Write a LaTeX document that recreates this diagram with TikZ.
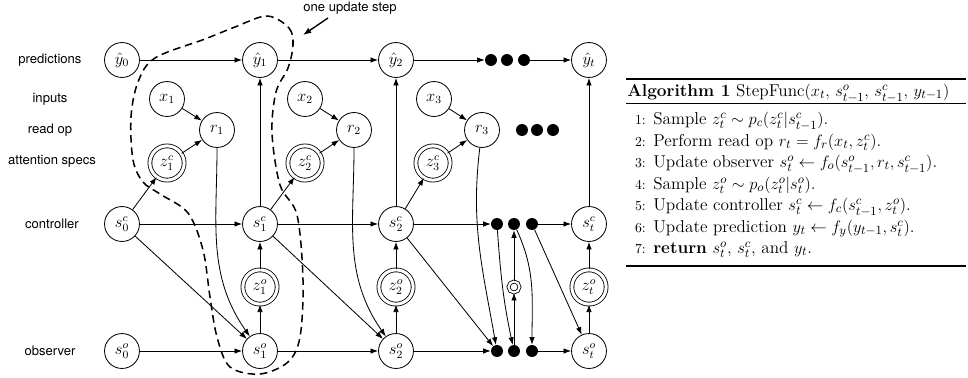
\documentclass[tikz,border=0pt]{standalone}
\usepackage{amsmath}
\usepackage{fontspec}
\newfontfamily\lblfont{TeX Gyre Heros}
\usetikzlibrary{arrows.meta}
\begin{document}
\begin{tikzpicture}[x=0.727pt, y=-0.727pt,
  st/.style={circle, draw, line width=0.6pt, minimum size=25.4pt, inner sep=0pt, font=\large},
  dst/.style={st, double, double distance=2.2pt, minimum size=24.9pt},
  dotn/.style={circle, fill=black, minimum size=8.7pt, inner sep=0pt},
  sdbl/.style={circle, draw, double, double distance=1.5pt, line width=0.6pt, minimum size=8pt, inner sep=0pt},
  arr/.style={-{Latex[length=5.5pt,width=4pt]}, line width=0.6pt},
  lbl/.style={font=\lblfont\fontsize{9.5}{11}\selectfont},
  hull/.style={dash pattern=on 5.5pt off 3.5pt, line width=1.1pt},
  algtxt/.style={anchor=base west, inner sep=0pt, font=\fontsize{12.5}{15}\selectfont},
  algnum/.style={anchor=base east, inner sep=0pt, font=\fontsize{10}{12}\selectfont},
]
\useasboundingbox (0,0) rectangle (968,377);

% row labels
\node[lbl] (lpred) at (50,60) {predictions};
\node[lbl] (linp) at (50,99) {inputs};
\node[lbl] (lread) at (50,130) {read op};
\node[lbl] (latt) at (52,161) {attention specs};
\node[lbl] (lctrl) at (52,224) {controller};
\node[lbl] (lobs) at (50,351) {observer};

% predictions
\node[st] (y0) at (122,60) {$\hat y_0$};
\node[st] (y1) at (260,60) {$\hat y_1$};
\node[st] (y2) at (396,60) {$\hat y_2$};
\node[dotn] (pd1) at (491,60) {};
\node[dotn] (pd2) at (507,60) {};
\node[dotn] (pd3) at (524,60) {};
\node[st] (yt) at (589,60) {$\hat y_t$};

% inputs, read ops, attention specs
\node[st] (x1) at (167,99) {$x_1$};
\node[st] (x2) at (305,99) {$x_2$};
\node[st] (x3) at (434,99) {$x_3$};
\node[st] (r1) at (217,130) {$r_1$};
\node[st] (r2) at (354,130) {$r_2$};
\node[st] (r3) at (482,130) {$r_3$};
\node[dotn] (rd1) at (522,130) {};
\node[dotn] (rd2) at (537,130) {};
\node[dotn] (rd3) at (553,130) {};
\node[dst] (zc1) at (167,163) {$z^c_1$};
\node[dst] (zc2) at (305,163) {$z^c_2$};
\node[dst] (zc3) at (433,163) {$z^c_3$};

% controller
\node[st] (sc0) at (122,224) {$s^c_0$};
\node[st] (sc1) at (260,224) {$s^c_1$};
\node[st] (sc2) at (396,224) {$s^c_2$};
\node[dotn] (cd1) at (497,224) {};
\node[dotn] (cd2) at (514,224) {};
\node[dotn] (cd3) at (532,224) {};
\node[st] (sct) at (589,224) {$s^c_t$};

% observation attention
\node[dst] (zo1) at (260,287) {$z^o_1$};
\node[dst] (zo2) at (396,287) {$z^o_2$};
\node[sdbl] (zom) at (514,287) {};
\node[dst] (zot) at (589,287) {$z^o_t$};

% observer
\node[st] (so0) at (122,351) {$s^o_0$};
\node[st] (so1) at (260,351) {$s^o_1$};
\node[st] (so2) at (396,351) {$s^o_2$};
\node[dotn] (od1) at (497,351) {};
\node[dotn] (od2) at (514,351) {};
\node[dotn] (od3) at (532,351) {};
\node[st] (sot) at (589,351) {$s^o_t$};

% prediction chain
\draw[arr] (y0) -- (y1);
\draw[arr] (y1) -- (y2);
\draw[arr] (y2) -- (pd1);
\draw[arr] (pd3) -- (yt);

% reads
\draw[arr] (x1) -- (r1);
\draw[arr] (zc1) -- (r1);
\draw[arr] (x2) -- (r2);
\draw[arr] (zc2) -- (r2);
\draw[arr] (x3) -- (r3);
\draw[arr] (zc3) -- (r3);

% controller to attention specs
\draw[arr] (sc0) -- (zc1);
\draw[arr] (sc1) -- (zc2);
\draw[arr] (sc2) -- (zc3);

% controller to predictions
\draw[arr] (sc1) -- (y1);
\draw[arr] (sc2) -- (y2);
\draw[arr] (sct) -- (yt);

% controller chain
\draw[arr] (sc0) -- (sc1);
\draw[arr] (sc1) -- (sc2);
\draw[arr] (sc2) -- (cd1);
\draw[arr] (cd3) -- (sct);

% controller to observer
\draw[arr] (sc0) -- (so1);
\draw[arr] (sc1) -- (so2);
\draw[arr] (sc2) -- (od1);
\draw[arr] (cd3) -- (sot);
\draw[arr] (cd1) to[out=-86,in=102] (od2);
\draw[arr] (cd2) to[out=-65,in=90] (od3);

% observer chain
\draw[arr] (so0) -- (so1);
\draw[arr] (so1) -- (so2);
\draw[arr] (so2) -- (od1);
\draw[arr] (od3) -- (sot);

% observer to controller via z^o
\draw[arr] (so1) -- (zo1);
\draw[arr] (zo1) -- (sc1);
\draw[arr] (so2) -- (zo2);
\draw[arr] (zo2) -- (sc2);
\draw[arr] (od2) -- (zom);
\draw[arr] (zom) -- (cd2);
\draw[arr] (sot) -- (zot);
\draw[arr] (zot) -- (sct);

% reads to observer
\draw[arr] (r1) to[out=-90,in=125] (so1);
\draw[arr] (r2) to[out=-90,in=125] (so2);
\draw[arr] (r3) to[out=-97,in=100] (od1);

% one update step
\draw[hull] plot[smooth cycle, tension=0.55] coordinates {
  (267,16) (289,28) (293,45) (288,68) (276,92) (272,133) (280,185)
  (297,215) (303,280) (300,337) (288,362) (260,374) (230,367)
  (217,337) (210,297) (203,250) (188,213) (160,194) (143,182)
  (133,160) (131,117) (138,82) (155,58) (205,39) (235,27)};
\node[lbl] (steplbl) at (350,8) {one update step};
\coordinate (stepfrom) at (328,18);
\coordinate (steptip) at (303,35);
\draw[-{Latex[length=6pt,width=4.5pt]}, line width=1pt] (stepfrom) -- (steptip);

% algorithm
\draw[line width=0.8pt] (626,79) -- (966,79);
\node[algtxt] (algh) at (627,96.5) {\textbf{Algorithm 1} StepFunc$(x_t,\, s^o_{t-1},\, s^c_{t-1},\, y_{t-1})$};
\draw[line width=0.45pt] (626,103) -- (966,103);
\node[algnum] (n1) at (646,124.5) {1:};
\node[algtxt] (a1) at (653,124.5) {Sample $z^c_t \sim p_c(z^c_t|s^c_{t-1})$.};
\node[algnum] (n2) at (646,146) {2:};
\node[algtxt] (a2) at (653,146) {Perform read op $r_t = f_r(x_t, z^c_t)$.};
\node[algnum] (n3) at (646,167.5) {3:};
\node[algtxt] (a3) at (653,167.5) {Update observer $s^o_t \leftarrow f_o(s^o_{t-1}, r_t, s^c_{t-1})$.};
\node[algnum] (n4) at (646,189) {4:};
\node[algtxt] (a4) at (653,189) {Sample $z^o_t \sim p_o(z^o_t|s^o_t)$.};
\node[algnum] (n5) at (646,210.5) {5:};
\node[algtxt] (a5) at (653,210.5) {Update controller $s^c_t \leftarrow f_c(s^c_{t-1}, z^o_t)$.};
\node[algnum] (n6) at (646,232) {6:};
\node[algtxt] (a6) at (653,232) {Update prediction $y_t \leftarrow f_y(y_{t-1}, s^c_t)$.};
\node[algnum] (n7) at (646,253.5) {7:};
\node[algtxt] (a7) at (653,253.5) {\textbf{return} $s^o_t$, $s^c_t$, and $y_t$.};
\draw[line width=0.8pt] (626,266) -- (966,266);
\end{tikzpicture}
\end{document}
